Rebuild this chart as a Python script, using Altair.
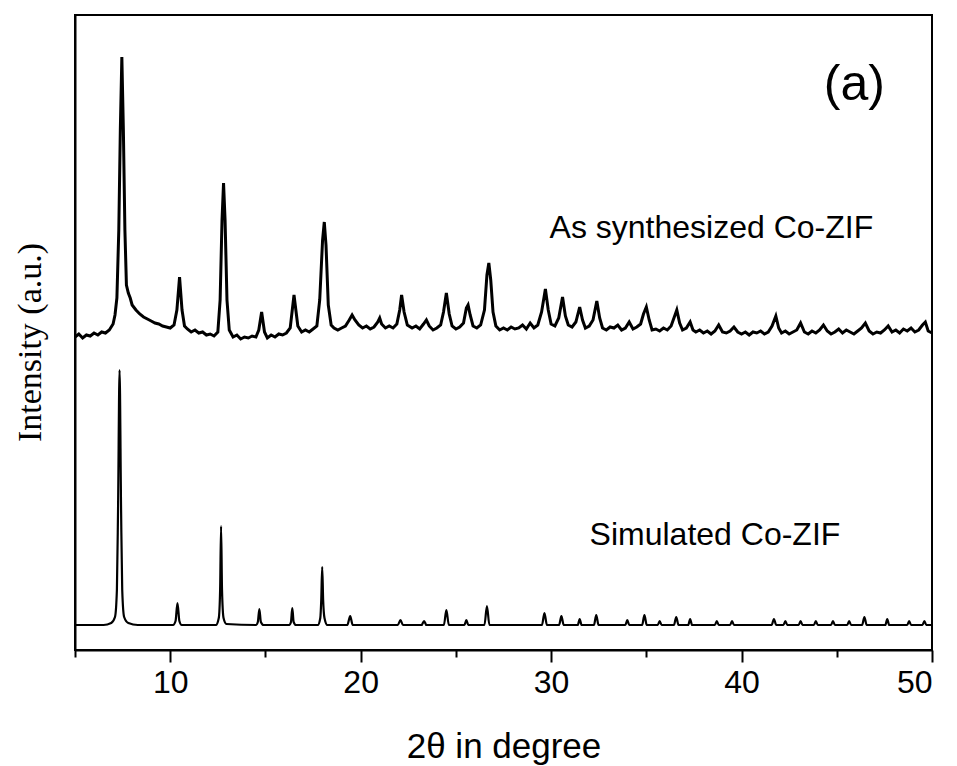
import altair as alt
import pandas as pd

# ---- As-synthesized Co-ZIF pattern (2theta, intensity a.u.)
upper_x = [5.0, 5.2, 5.4, 5.6, 5.8, 6.0, 6.2, 6.4, 6.6, 6.8, 7.0, 7.1, 7.2, 7.3, 7.38, 7.46, 7.54, 7.62, 7.7, 7.8,
           7.9, 8.0, 8.2, 8.4, 8.6, 8.8, 9.0, 9.2, 9.4, 9.6, 9.8, 10.0, 10.2, 10.35, 10.49, 10.62, 10.75, 10.9, 11.1, 11.3,
           11.5, 11.7, 11.9, 12.1, 12.3, 12.5, 12.62, 12.72, 12.8, 12.88, 12.98, 13.1, 13.3, 13.5, 13.7, 13.9, 14.1, 14.3, 14.5, 14.65,
           14.8, 14.95, 15.1, 15.3, 15.5, 15.7, 15.9, 16.1, 16.3, 16.5, 16.7, 16.9, 17.1, 17.3, 17.5, 17.7, 17.85, 18.0, 18.09, 18.18,
           18.3, 18.45, 18.6, 18.8, 19.0, 19.2, 19.4, 19.55, 19.7, 19.9, 20.1, 20.3, 20.5, 20.7, 20.9, 21.0, 21.1, 21.3, 21.5, 21.7,
           21.9, 22.05, 22.15, 22.28, 22.45, 22.7, 22.9, 23.1, 23.3, 23.45, 23.6, 23.8, 24.0, 24.2, 24.35, 24.5, 24.65, 24.8, 25.0, 25.2,
           25.4, 25.55, 25.64, 25.75, 25.9, 26.1, 26.3, 26.5, 26.63, 26.73, 26.83, 26.95, 27.1, 27.3, 27.5, 27.7, 27.9, 28.1, 28.3, 28.5,
           28.7, 28.9, 29.1, 29.3, 29.5, 29.7, 29.85, 30.0, 30.2, 30.4, 30.6, 30.75, 30.9, 31.1, 31.3, 31.5, 31.65, 31.8, 32.0, 32.2,
           32.4, 32.55, 32.7, 32.9, 33.1, 33.3, 33.5, 33.7, 33.9, 34.1, 34.3, 34.5, 34.7, 34.85, 35.0, 35.15, 35.3, 35.5, 35.7, 35.9,
           36.1, 36.3, 36.45, 36.6, 36.75, 36.9, 37.1, 37.3, 37.45, 37.6, 37.8, 38.0, 38.2, 38.4, 38.6, 38.8, 39.0, 39.2, 39.4, 39.6,
           39.8, 40.0, 40.2, 40.4, 40.6, 40.8, 41.0, 41.2, 41.4, 41.6, 41.8, 41.95, 42.1, 42.3, 42.5, 42.7, 42.9, 43.1, 43.3, 43.5,
           43.7, 43.9, 44.1, 44.3, 44.5, 44.7, 44.9, 45.1, 45.3, 45.5, 45.7, 45.9, 46.1, 46.3, 46.5, 46.7, 46.9, 47.1, 47.3, 47.5,
           47.7, 47.9, 48.1, 48.3, 48.5, 48.7, 48.9, 49.1, 49.3, 49.5, 49.65, 49.8, 50.0]
upper_y = [313, 316, 312, 315, 314, 317, 315, 318, 317, 320, 326, 335, 352, 420, 520, 593, 520, 420, 365, 357,
           352, 345, 340, 336, 333, 331, 329, 327, 326, 324, 323, 322, 325, 340, 373, 340, 324, 321, 318, 320,
           317, 318, 315, 316, 314, 318, 350, 430, 467, 430, 350, 320, 313, 315, 311, 313, 312, 314, 313, 320,
           338, 318, 312, 315, 313, 316, 315, 317, 322, 355, 324, 318, 320, 318, 321, 324, 350, 410, 428, 405,
           345, 325, 322, 320, 322, 324, 330, 335, 330, 325, 322, 324, 321, 323, 328, 332, 326, 322, 324, 322,
           326, 340, 355, 338, 325, 322, 324, 321, 326, 330, 324, 320, 322, 325, 338, 357, 336, 324, 321, 323,
           327, 342, 345, 335, 324, 322, 325, 340, 375, 387, 370, 338, 324, 320, 322, 320, 323, 321, 322, 325,
           321, 327, 322, 325, 338, 361, 340, 326, 324, 332, 353, 334, 325, 323, 328, 343, 330, 322, 324, 330,
           349, 332, 322, 320, 323, 322, 325, 320, 322, 328, 321, 323, 326, 336, 343, 330, 320, 321, 319, 322,
           320, 324, 332, 340, 327, 320, 322, 328, 320, 318, 320, 317, 319, 316, 319, 325, 318, 317, 319, 323,
           318, 316, 318, 315, 318, 317, 319, 316, 318, 324, 334, 322, 317, 319, 316, 318, 320, 327, 318, 316,
           319, 317, 320, 325, 319, 316, 318, 321, 317, 320, 318, 316, 319, 322, 327, 319, 316, 318, 317, 320,
           324, 318, 320, 317, 321, 319, 322, 318, 320, 325, 328, 319, 317]

# ---- Simulated Co-ZIF pattern
lower_x = [5.0, 6.5, 6.9, 7.1, 7.2, 7.26, 7.34, 7.42, 7.48, 7.58, 7.8, 8.3,
           10.15, 10.28, 10.38, 10.48, 10.6, 12.4, 12.55, 12.62, 12.67, 12.72, 12.8, 12.95,
           14.5, 14.6, 14.68, 14.76, 14.9, 16.25, 16.34, 16.41, 16.48, 16.6,
           17.75, 17.88, 17.93, 17.98, 18.03, 18.1, 18.25, 19.3, 19.45, 19.58,
           21.95, 22.09, 22.22, 23.2, 23.33, 23.45, 24.37, 24.5, 24.63, 25.45, 25.55, 25.65,
           26.5, 26.63, 26.76, 29.52, 29.65, 29.78, 30.42, 30.54, 30.66, 31.4, 31.5, 31.6,
           32.25, 32.37, 32.49, 33.9, 34.0, 34.1, 34.78, 34.9, 35.02, 35.6, 35.7, 35.8,
           36.45, 36.57, 36.69, 37.2, 37.3, 37.4, 38.6, 38.7, 38.8, 39.4, 39.5, 39.6,
           41.58, 41.7, 41.82, 42.2, 42.3, 42.4, 43.0, 43.1, 43.2, 43.8, 43.9, 44.0,
           44.7, 44.8, 44.9, 45.55, 45.65, 45.75, 46.33, 46.45, 46.57, 47.55, 47.65, 47.75,
           48.7, 48.8, 48.9, 49.5, 49.6, 49.7, 50.0]
lower_y = [25, 25, 27, 33, 60, 140, 280, 140, 60, 33, 27, 25,
           25, 29, 47, 29, 25, 25, 32, 60, 124, 60, 32, 26,
           25, 28, 41, 28, 25, 25, 28, 42, 28, 25,
           25, 32, 50, 83, 50, 32, 25, 25, 34, 25,
           25, 30, 25, 25, 29, 25, 25, 40, 25, 25, 30, 25,
           25, 44, 25, 25, 37, 25, 25, 34, 25, 25, 31, 25,
           25, 35, 25, 25, 30, 25, 25, 35, 25, 25, 29, 25,
           25, 33, 25, 25, 31, 25, 25, 29, 25, 25, 29, 25,
           25, 31, 25, 25, 29, 25, 25, 29, 25, 25, 29, 25,
           25, 29, 25, 25, 29, 25, 25, 33, 25, 25, 31, 25,
           25, 29, 25, 25, 29, 25, 25]

x_ticks = [5, 10, 15, 20, 25, 30, 35, 40, 45, 50]

upper = pd.DataFrame({"theta": upper_x, "intensity": upper_y})
lower = pd.DataFrame({"theta": lower_x, "intensity": lower_y})

xscale = alt.Scale(domain=[5, 50], nice=False, zero=False)
yscale = alt.Scale(domain=[0, 635], nice=False, zero=False)

xaxis = alt.Axis(
    title="2θ in degree", values=x_ticks,
    labelExpr="datum.value % 10 === 0 ? datum.label : ''",
    tickSize={"condition": {"test": "datum.value % 10 === 0", "value": 12}, "value": 7},
    labelFont="Liberation Sans", labelFontSize=32, labelColor="black", labelPadding=5,
    titleFont="Liberation Sans", titleFontSize=35, titleFontWeight="normal", titleColor="black",
    titleBaseline="alphabetic", titleY=107,
    domainColor="black", domainWidth=2, tickColor="black", tickWidth=2, grid=False,
)
yaxis = alt.Axis(
    title="Intensity (a.u.)", labels=False, ticks=False,
    titleFont="Liberation Serif", titleFontSize=34, titleFontWeight="normal", titleColor="black",
    titleAngle=-90, titleBaseline="alphabetic", titleAlign="center", titleX=-35, titleY=327,
    domainColor="black", domainWidth=2, grid=False,
)

line_up = alt.Chart(upper).mark_line(color="black", strokeWidth=3, interpolate="linear").encode(
    x=alt.X("theta:Q", scale=xscale, axis=xaxis),
    y=alt.Y("intensity:Q", scale=yscale, axis=yaxis),
)
line_low = alt.Chart(lower).mark_line(color="black", strokeWidth=2.2, interpolate="monotone").encode(
    x=alt.X("theta:Q", scale=xscale),
    y=alt.Y("intensity:Q", scale=yscale),
)

lab_a = pd.DataFrame({"theta": [45.92], "intensity": [550], "text": ["(a)"]})
lab_up = pd.DataFrame({"theta": [29.92], "intensity": [412], "text": ["As synthesized Co-ZIF"]})
lab_low = pd.DataFrame({"theta": [32.02], "intensity": [105], "text": ["Simulated Co-ZIF"]})

def text_layer(df, size, align):
    return alt.Chart(df).mark_text(font="Liberation Sans", fontSize=size, color="black",
                                   align=align, baseline="alphabetic").encode(
        x=alt.X("theta:Q", scale=xscale), y=alt.Y("intensity:Q", scale=yscale), text="text:N")

chart = alt.layer(
    line_up, line_low,
    text_layer(lab_a, 50, "center"),
    text_layer(lab_up, 32, "left"),
    text_layer(lab_low, 32, "left"),
).properties(
    width=857, height=635,
    autosize=alt.AutoSizeParams(type="none"),
    padding={"left": 75, "top": 15, "right": 25, "bottom": 116},
).configure(
    background="white",
    view=alt.ViewConfig(stroke="black", strokeWidth=2),
)

chart.save("out.html", embed_options={"renderer": "svg", "actions": False})
